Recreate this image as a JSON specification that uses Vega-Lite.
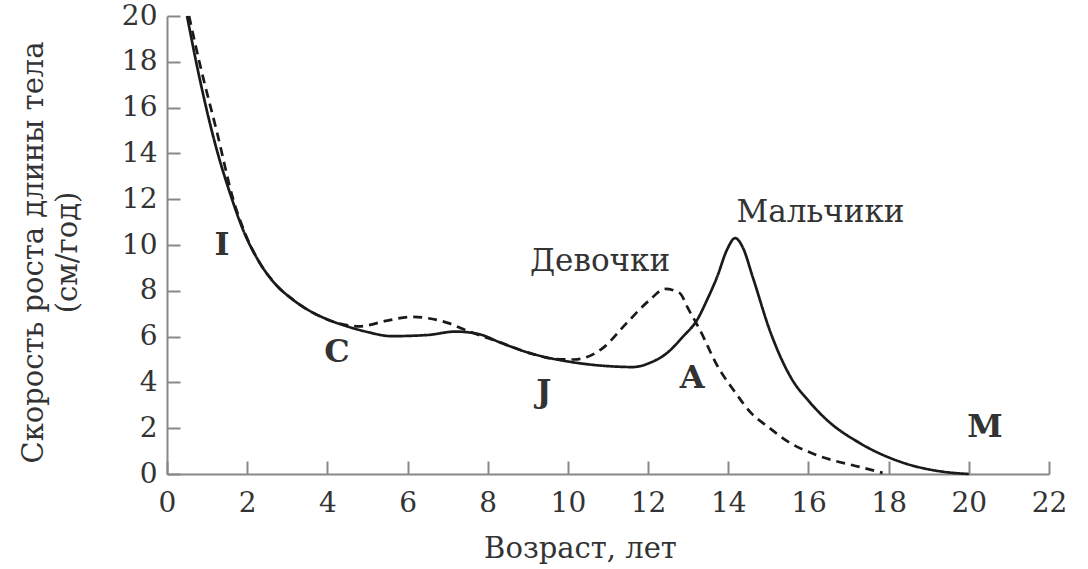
{
  "$schema": "https://vega.github.io/schema/vega-lite/v6.json",
  "autosize": "none",
  "padding": {"left": 167, "top": 16, "right": 39, "bottom": 95},
  "width": 882,
  "height": 458,
  "background": "white",
  "datasets": {
    "curves": [
      {"sex": "boys", "age": 0.5, "v": 20},
      {"sex": "boys", "age": 0.75, "v": 17.8},
      {"sex": "boys", "age": 0.99, "v": 15.9},
      {"sex": "boys", "age": 1.25, "v": 14.1},
      {"sex": "boys", "age": 1.57, "v": 12.27},
      {"sex": "boys", "age": 1.9, "v": 10.65},
      {"sex": "boys", "age": 2.32, "v": 9.2},
      {"sex": "boys", "age": 2.7, "v": 8.3},
      {"sex": "boys", "age": 3.15, "v": 7.6},
      {"sex": "boys", "age": 4.0, "v": 6.75},
      {"sex": "boys", "age": 4.4, "v": 6.5},
      {"sex": "boys", "age": 5.0, "v": 6.2},
      {"sex": "boys", "age": 5.6, "v": 6.02},
      {"sex": "boys", "age": 6.5, "v": 6.07},
      {"sex": "boys", "age": 7.2, "v": 6.22},
      {"sex": "boys", "age": 7.8, "v": 6.1},
      {"sex": "boys", "age": 8.3, "v": 5.75},
      {"sex": "boys", "age": 9.05, "v": 5.28},
      {"sex": "boys", "age": 10.05, "v": 4.9},
      {"sex": "boys", "age": 11.1, "v": 4.7},
      {"sex": "boys", "age": 11.62, "v": 4.67},
      {"sex": "boys", "age": 12.04, "v": 4.85},
      {"sex": "boys", "age": 12.47, "v": 5.28},
      {"sex": "boys", "age": 12.87, "v": 6.0},
      {"sex": "boys", "age": 13.22, "v": 6.72},
      {"sex": "boys", "age": 13.47, "v": 7.6},
      {"sex": "boys", "age": 13.72, "v": 8.6},
      {"sex": "boys", "age": 13.97, "v": 9.8},
      {"sex": "boys", "age": 14.17, "v": 10.3},
      {"sex": "boys", "age": 14.36, "v": 9.9},
      {"sex": "boys", "age": 14.61, "v": 8.6},
      {"sex": "boys", "age": 15.05, "v": 6.2},
      {"sex": "boys", "age": 15.6, "v": 4.1},
      {"sex": "boys", "age": 16.0, "v": 3.2},
      {"sex": "boys", "age": 16.46, "v": 2.36},
      {"sex": "boys", "age": 17.28, "v": 1.35},
      {"sex": "boys", "age": 18.28, "v": 0.54},
      {"sex": "boys", "age": 19.35, "v": 0.1},
      {"sex": "boys", "age": 20.0, "v": 0},
      {"sex": "girls", "age": 0.55, "v": 20},
      {"sex": "girls", "age": 0.82, "v": 17.9},
      {"sex": "girls", "age": 1.25, "v": 14.9},
      {"sex": "girls", "age": 1.65, "v": 12.0},
      {"sex": "girls", "age": 1.95, "v": 10.5},
      {"sex": "girls", "age": 2.32, "v": 9.2},
      {"sex": "girls", "age": 2.7, "v": 8.3},
      {"sex": "girls", "age": 3.15, "v": 7.6},
      {"sex": "girls", "age": 4.0, "v": 6.75},
      {"sex": "girls", "age": 4.8, "v": 6.45},
      {"sex": "girls", "age": 5.5, "v": 6.7},
      {"sex": "girls", "age": 6.1, "v": 6.86},
      {"sex": "girls", "age": 7.0, "v": 6.6},
      {"sex": "girls", "age": 7.5, "v": 6.25},
      {"sex": "girls", "age": 8.3, "v": 5.75},
      {"sex": "girls", "age": 9.05, "v": 5.28},
      {"sex": "girls", "age": 9.7, "v": 5.02},
      {"sex": "girls", "age": 10.15, "v": 5.0},
      {"sex": "girls", "age": 10.87, "v": 5.5},
      {"sex": "girls", "age": 11.47, "v": 6.6},
      {"sex": "girls", "age": 12.04, "v": 7.6},
      {"sex": "girls", "age": 12.42, "v": 8.08},
      {"sex": "girls", "age": 12.79, "v": 7.9},
      {"sex": "girls", "age": 12.99, "v": 7.25},
      {"sex": "girls", "age": 13.29, "v": 6.3},
      {"sex": "girls", "age": 13.72, "v": 4.75},
      {"sex": "girls", "age": 14.2, "v": 3.5},
      {"sex": "girls", "age": 14.55, "v": 2.7},
      {"sex": "girls", "age": 15.0, "v": 2.05},
      {"sex": "girls", "age": 15.5, "v": 1.4},
      {"sex": "girls", "age": 16.2, "v": 0.83},
      {"sex": "girls", "age": 17.3, "v": 0.3},
      {"sex": "girls", "age": 17.85, "v": 0.05}
    ],
    "letters": [
      {"label": "I", "age": 1.37, "v": 10.0},
      {"label": "C", "age": 4.24, "v": 5.33},
      {"label": "J", "age": 9.4, "v": 3.6},
      {"label": "A", "age": 13.1, "v": 4.2},
      {"label": "M", "age": 20.4, "v": 2.07}
    ],
    "names": [
      {"label": "Мальчики", "age": 16.3, "v": 11.4},
      {"label": "Девочки", "age": 10.8, "v": 9.25}
    ]
  },
  "config": {
    "view": {"stroke": null},
    "font": "DejaVu Serif",
    "axis": {
      "grid": false,
      "domainColor": "#888888",
      "domainWidth": 2,
      "tickColor": "#888888",
      "tickWidth": 2,
      "tickSize": -13,
      "labelFlush": false,
      "labelFont": "DejaVu Serif",
      "labelFontSize": 28,
      "labelColor": "#333333",
      "titleFont": "DejaVu Serif",
      "titleFontWeight": "normal",
      "titleColor": "#333333",
      "titleFontSize": 29
    }
  },
  "layer": [
    {
      "data": {"name": "curves"},
      "mark": {"type": "line", "interpolate": "monotone", "color": "#1a1a1a", "strokeWidth": 2.7},
      "encoding": {
        "x": {"field": "age", "type": "quantitative", "scale": {"domain": [0, 22], "nice": false},
          "axis": {"values": [0,2,4,6,8,10,12,14,16,18,20,22], "title": "Возраст, лет", "labelPadding": 28, "titlePadding": 17, "titleX": 413}},
        "y": {"field": "v", "type": "quantitative", "scale": {"domain": [0, 20], "nice": false},
          "axis": {"values": [0,2,4,6,8,10,12,14,16,18,20], "title": ["Скорость роста длины тела", "(см/год)"], "labelPadding": 23, "titlePadding": 39, "titleLineHeight": 34, "titleY": 236}},
        "detail": {"field": "sex"},
        "strokeDash": {"field": "sex", "type": "nominal", "scale": {"domain": ["boys", "girls"], "range": [[1, 0], [9, 6]]}, "legend": null}
      }
    },
    {
      "data": {"name": "letters"},
      "mark": {"type": "text", "fontWeight": "bold", "fontSize": 32, "color": "#333333", "font": "DejaVu Serif"},
      "encoding": {
        "x": {"field": "age", "type": "quantitative"},
        "y": {"field": "v", "type": "quantitative"},
        "text": {"field": "label"}
      }
    },
    {
      "data": {"name": "names"},
      "mark": {"type": "text", "fontSize": 31, "color": "#333333", "font": "DejaVu Serif"},
      "encoding": {
        "x": {"field": "age", "type": "quantitative"},
        "y": {"field": "v", "type": "quantitative"},
        "text": {"field": "label"}
      }
    }
  ]
}
